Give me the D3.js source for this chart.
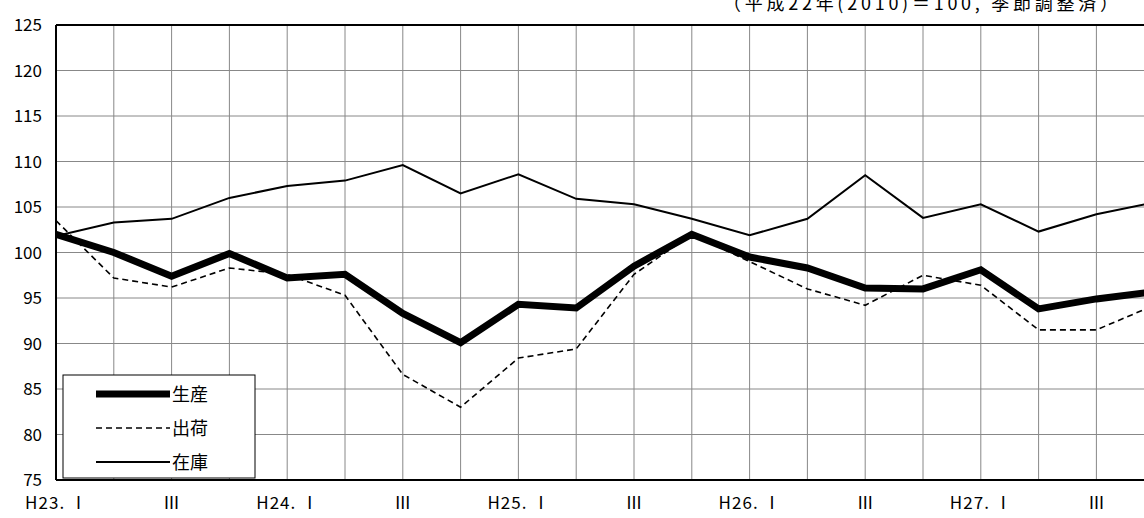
<!DOCTYPE html>
<html><head><meta charset="utf-8">
<script src="https://cdn.jsdelivr.net/npm/d3@7"></script>
<style>body{margin:0;background:#fff}svg{display:block;font-family:"Noto Sans CJK JP",sans-serif}</style>
</head><body><svg id="c" width="1144" height="518"></svg>
<script>
var seisan = [102,100,97.4,99.9,97.2,97.6,93.3,90.1,94.3,93.9,98.5,102,99.5,98.3,96.1,96,98.1,93.8,94.9,95.7];
var shukka = [103.5,97.2,96.2,98.3,97.6,95.3,86.6,83,88.4,89.4,97.6,102,99,96,94.2,97.5,96.4,91.5,91.5,94.2];
var zaiko = [101.8,103.3,103.7,106,107.3,107.9,109.6,106.5,108.6,105.9,105.3,103.7,101.9,103.7,108.5,103.8,105.3,102.3,104.2,105.5];
var xLabels = ["H23. Ⅰ","","Ⅲ","","H24. Ⅰ","","Ⅲ","","H25. Ⅰ","","Ⅲ","","H26. Ⅰ","","Ⅲ","","H27. Ⅰ","","Ⅲ",""];
var yTicks = d3.range(75,126,5);

var svg = d3.select("#c");
var x = d3.scaleLinear().domain([0,19]).range([56,56+19*57.8]);
var y = d3.scaleLinear().domain([75,125]).range([480,25]);

svg.append("defs").append("clipPath").attr("id","cp").append("rect")
  .attr("x",56).attr("y",0).attr("width",1144-56).attr("height",518);

var g = svg.append("g");
g.selectAll(".hg").data(yTicks).enter().append("line")
  .attr("x1",56).attr("x2",1144).attr("y1",d=>y(d)).attr("y2",d=>y(d))
  .attr("stroke","#888").attr("stroke-width",1);
g.selectAll(".vg").data(d3.range(1,19)).enter().append("line")
  .attr("x1",d=>x(d)).attr("x2",d=>x(d)).attr("y1",25).attr("y2",480)
  .attr("stroke","#888").attr("stroke-width",1);

var line = d3.line().x((d,i)=>x(i)).y(d=>y(d));
var pg = g.append("g").attr("clip-path","url(#cp)");
pg.append("path").attr("d",line(zaiko)).attr("fill","none").attr("stroke","#000").attr("stroke-width",2);
pg.append("path").attr("d",line(shukka)).attr("fill","none").attr("stroke","#000").attr("stroke-width",1.6).attr("stroke-dasharray","6,4");
pg.append("path").attr("d",line(seisan)).attr("fill","none").attr("stroke","#000").attr("stroke-width",7);

g.append("line").attr("x1",56).attr("x2",1144).attr("y1",25).attr("y2",25).attr("stroke","#000").attr("stroke-width",2);
g.append("line").attr("x1",56).attr("x2",1144).attr("y1",480).attr("y2",480).attr("stroke","#000").attr("stroke-width",2);
g.append("line").attr("x1",56).attr("x2",56).attr("y1",25).attr("y2",480).attr("stroke","#000").attr("stroke-width",2);

g.selectAll(".yl").data(yTicks).enter().append("text")
  .attr("x",42).attr("y",d=>y(d)+6).attr("text-anchor","end").attr("font-size",17).text(d=>d);
g.selectAll(".xl").data(xLabels).enter().append("text")
  .attr("x",(d,i)=>x(i)).attr("y",509).attr("text-anchor","middle").attr("font-size",17)
  .each(function(d){ if(d.length>2) d3.select(this).attr("textLength",62).attr("lengthAdjust","spacing"); })
  .text(d=>d);

svg.append("text").attr("x",1118).attr("y",10).attr("text-anchor","end").attr("font-size",18)
  .attr("textLength",395).attr("lengthAdjust","spacing")
  .text("（平成22年(2010)＝100, 季節調整済）");

var lg = svg.append("g");
lg.append("rect").attr("x",63).attr("y",375).attr("width",192).attr("height",103).attr("fill","#fff").attr("stroke","#000").attr("stroke-width",1);
var items = [["生産",7,null],["出荷",1.6,"6,4"],["在庫",2,null]];
items.forEach(function(it,i){
  var yy = 394+i*34;
  lg.append("line").attr("x1",96).attr("x2",170).attr("y1",yy).attr("y2",yy).attr("stroke","#000")
    .attr("stroke-width",it[1]).attr("stroke-dasharray",it[2]);
  lg.append("text").attr("x",172).attr("y",yy+7).attr("font-size",18).text(it[0]);
});
</script></body></html>
